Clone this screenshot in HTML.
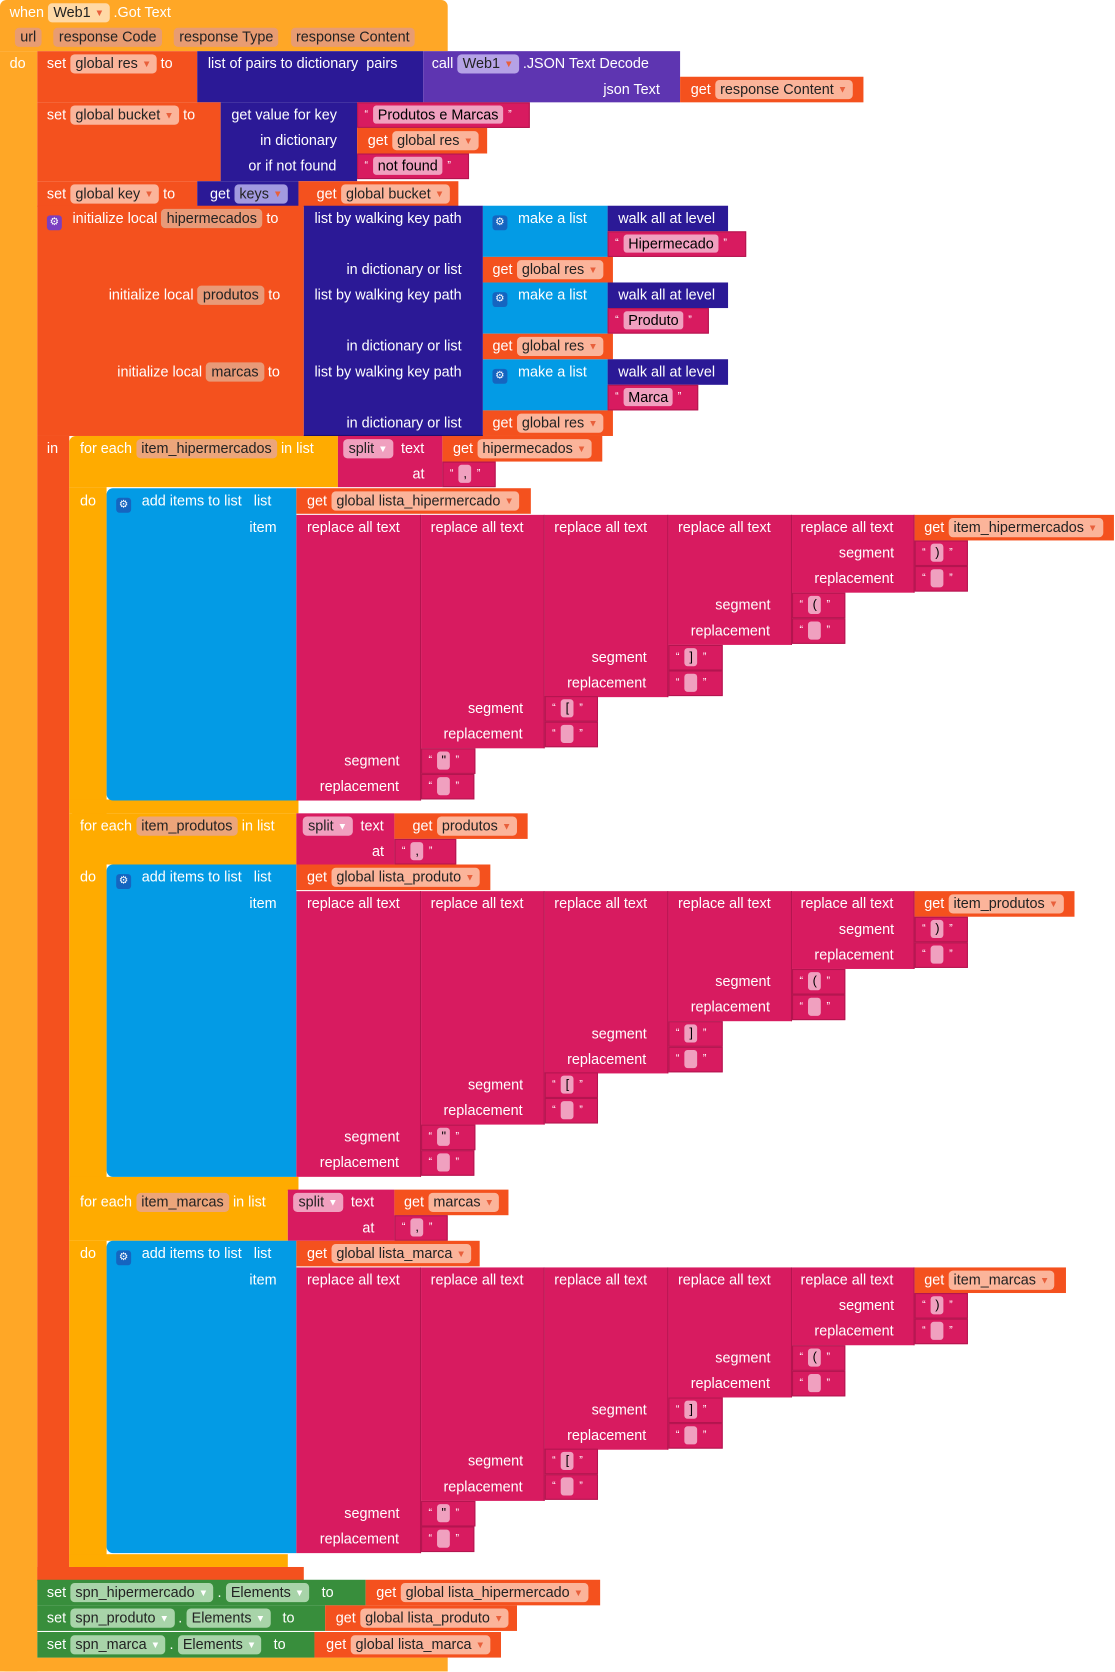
<!DOCTYPE html>
<html><head><meta charset="utf-8"><style>
*{margin:0;padding:0;box-sizing:border-box}
body{width:1115px;height:1672px;background:#fff;overflow:hidden}
#w{position:absolute;left:0;top:0;width:1046px;height:1568px;transform:scale(1.06597);transform-origin:0 0}
.b{position:absolute}
.t{position:absolute;color:#fff;font:13.5px "Liberation Sans",sans-serif;white-space:nowrap;line-height:24px;height:24px}
.p{display:inline-block;padding:0 5px;border-radius:4px;line-height:18px;color:#222}
.p s{text-decoration:none;font-size:9px;color:#e8603c;vertical-align:1px}
.O{background:#F4511E}.E{background:#FFA726}.I{background:#2B1996}.P{background:#5E35B1}.M{background:#D81B60}.L{background:#039BE5}.Y{background:#FFAB00}.G{background:#388E3C}
.po{background:#fbb49a}.pe{background:#ffd9a6}.pr{background:#e89c72}.pi{background:#a29ae0}.pp{background:#b5a2e6}.pm{background:#f0a0bf}.pg{background:#a8d4a9}.py{background:#eca57a}.pl{background:#e89a78}
.q{position:absolute;height:24px;background:#D81B60;border:1px solid #b3154f;color:#fff;font:10px "Liberation Sans",sans-serif;line-height:22px;padding-left:6px;white-space:nowrap}
.q i{display:inline-block;width:12px;height:17px;background:#f0a0bf;border-radius:3px;vertical-align:middle;margin:0 5px;color:#000;font:12px "Liberation Sans";font-style:normal;text-align:center;line-height:17px}
.g{display:inline-block;width:14px;height:14px;border-radius:3px;vertical-align:-2px;margin-right:10px;color:#fff;font-size:10px;text-align:center;line-height:14px}
.c{border-right:1px solid #b3154f}
</style></head><body><div id="w">
<!-- event -->
<div class="b E" style="left:0;top:0;width:420px;height:48px;border-radius:6px 6px 0 0"></div>
<div class="b E" style="left:0;top:48px;width:35px;height:1520px;border-radius:0 0 0 6px"></div>
<div class="b E" style="left:0;top:1555px;width:420px;height:13px"></div>
<div class="t" style="left:9px;top:0">when <span class="p pe">Web1 <s>▼</s></span> .Got Text</div>
<div class="t" style="left:14px;top:23px"><span class="p pr">url</span> &nbsp; <span class="p pr">response Code</span> &nbsp; <span class="p pr">response Type</span> &nbsp; <span class="p pr">response Content</span></div>
<div class="t" style="left:9px;top:48px">do</div>
<!-- set global res -->
<div class="b O" style="left:35px;top:48px;width:150px;height:48px"></div>
<div class="t" style="left:44px;top:48px">set <span class="p po">global res <s>▼</s></span> to</div>
<div class="b I" style="left:185px;top:48px;width:212px;height:48px"></div>
<div class="t" style="left:195px;top:48px">list of pairs to dictionary &nbsp;pairs</div>
<div class="b P" style="left:397px;top:48px;width:241px;height:48px"></div>
<div class="t" style="left:405px;top:48px">call <span class="p pp">Web1 <s>▼</s></span> .JSON Text Decode</div>
<div class="t" style="left:566px;top:72px">json Text</div>
<div class="b O" style="left:638px;top:72px;width:172px;height:24px"></div>
<div class="t" style="left:648px;top:72px">get <span class="p po">response Content <s>▼</s></span></div>
<!-- set bucket -->
<div class="b O" style="left:35px;top:96px;width:172px;height:74px"></div>
<div class="t" style="left:44px;top:96px">set <span class="p po">global bucket <s>▼</s></span> to</div>
<div class="b I" style="left:207px;top:96px;width:128px;height:74px"></div>
<div class="t" style="left:217px;top:96px">get value for key</div>
<div class="t" style="left:244px;top:120px">in dictionary</div>
<div class="t" style="left:233px;top:144px">or if not found</div>
<div class="q" style="left:335px;top:96px;width:162px">“<i style="width:auto;padding:0 4px;font:13.5px 'Liberation Sans';line-height:17px">Produtos e Marcas</i>”</div>
<div class="b O" style="left:335px;top:120px;width:122px;height:24px"></div>
<div class="t" style="left:345px;top:120px">get <span class="p po">global res <s>▼</s></span></div>
<div class="q" style="left:335px;top:144px;width:105px">“<i style="width:auto;padding:0 4px;font:13.5px 'Liberation Sans';line-height:17px">not found</i>”</div>
<!-- set key -->
<div class="b O" style="left:35px;top:170px;width:150px;height:24px"></div>
<div class="t" style="left:44px;top:170px">set <span class="p po">global key <s>▼</s></span> to</div>
<div class="b I" style="left:185px;top:170px;width:95px;height:24px"></div>
<div class="t" style="left:197px;top:170px">get <span class="p pi">keys <s>▼</s></span></div>
<div class="b O" style="left:280px;top:170px;width:150px;height:24px"></div>
<div class="t" style="left:297px;top:170px">get <span class="p po">global bucket <s>▼</s></span></div>
<!-- init local -->
<div class="b O" style="left:35px;top:193px;width:250px;height:216px"></div>
<div class="b O" style="left:35px;top:409px;width:30px;height:1074px"></div>
<div class="b O" style="left:35px;top:1470px;width:250px;height:13px"></div>
<div class="t" style="left:44px;top:193px"><span class="g" style="background:#7b3fc0">⚙</span>initialize local <span class="p pl">hipermecados</span> to</div>
<div class="t" style="left:102px;top:265px">initialize local <span class="p pl">produtos</span> to</div>
<div class="t" style="left:110px;top:337px">initialize local <span class="p pl">marcas</span> to</div>
<div class="t" style="left:44px;top:409px">in</div>
<!-- walkers -->
<div class="b I" style="left:285px;top:193px;width:168px;height:216px;border-bottom:1px solid #1d0f70"></div>
<div class="b L" style="left:453px;top:193px;width:117px;height:48px"></div>
<div class="b L" style="left:453px;top:265px;width:117px;height:48px"></div>
<div class="b L" style="left:453px;top:337px;width:117px;height:48px"></div>
<div class="t" style="left:295px;top:193px">list by walking key path</div>
<div class="t" style="left:325px;top:241px">in dictionary or list</div>
<div class="t" style="left:295px;top:265px">list by walking key path</div>
<div class="t" style="left:325px;top:313px">in dictionary or list</div>
<div class="t" style="left:295px;top:337px">list by walking key path</div>
<div class="t" style="left:325px;top:385px">in dictionary or list</div>
<div class="t" style="left:462px;top:193px"><span class="g" style="background:#1565c0">⚙</span>make a list</div>
<div class="t" style="left:462px;top:265px"><span class="g" style="background:#1565c0">⚙</span>make a list</div>
<div class="t" style="left:462px;top:337px"><span class="g" style="background:#1565c0">⚙</span>make a list</div>
<div class="b O" style="left:453px;top:241px;width:122px;height:24px"></div>
<div class="t" style="left:462px;top:241px">get <span class="p po">global res <s>▼</s></span></div>
<div class="b O" style="left:453px;top:313px;width:122px;height:24px"></div>
<div class="t" style="left:462px;top:313px">get <span class="p po">global res <s>▼</s></span></div>
<div class="b O" style="left:453px;top:385px;width:122px;height:24px"></div>
<div class="t" style="left:462px;top:385px">get <span class="p po">global res <s>▼</s></span></div>
<div class="b I" style="left:570px;top:193px;width:113px;height:24px"></div>
<div class="t" style="left:580px;top:193px">walk all at level</div>
<div class="b I" style="left:570px;top:265px;width:113px;height:24px"></div>
<div class="t" style="left:580px;top:265px">walk all at level</div>
<div class="b I" style="left:570px;top:337px;width:113px;height:24px"></div>
<div class="t" style="left:580px;top:337px">walk all at level</div>
<div class="q" style="left:570px;top:217px;width:130px">“<i style="width:auto;padding:0 4px;font:13.5px 'Liberation Sans';line-height:17px">Hipermecado</i>”</div>
<div class="q" style="left:570px;top:289px;width:95px">“<i style="width:auto;padding:0 4px;font:13.5px 'Liberation Sans';line-height:17px">Produto</i>”</div>
<div class="q" style="left:570px;top:361px;width:85px">“<i style="width:auto;padding:0 4px;font:13.5px 'Liberation Sans';line-height:17px">Marca</i>”</div>

<!-- yellow -->
<div class="b Y" style="left:65px;top:409px;width:252px;height:48px;border-radius:6px 0 0 0"></div>
<div class="b Y" style="left:65px;top:457px;width:35px;height:307px;border-radius:0 0 0 6px"></div>
<div class="b Y" style="left:65px;top:750px;width:215px;height:13px"></div>
<div class="b Y" style="left:65px;top:763px;width:213px;height:48px"></div>
<div class="b Y" style="left:65px;top:811px;width:35px;height:306px;border-radius:0 0 0 6px"></div>
<div class="b Y" style="left:65px;top:1104px;width:215px;height:13px"></div>
<div class="b Y" style="left:65px;top:1116px;width:205px;height:48px"></div>
<div class="b Y" style="left:65px;top:1164px;width:35px;height:306px;border-radius:0 0 0 6px"></div>
<div class="b Y" style="left:65px;top:1458px;width:205px;height:12px"></div>

<div class="t" style="left:75px;top:409px">for each <span class="p py">item_hipermercados</span> in list</div>
<div class="b M" style="left:317px;top:409px;width:98px;height:48px"></div>
<div class="t" style="left:322px;top:409px"><span class="p pm">split <s style="color:#fff">▼</s></span> &nbsp;text</div>
<div class="t" style="left:387px;top:433px">at</div>
<div class="b O" style="left:415px;top:409px;width:150px;height:24px"></div>
<div class="t" style="left:425px;top:409px">get <span class="p po">hipermecados <s>▼</s></span></div>
<div class="q" style="left:415px;top:433px;width:50px">“<i>,</i>”</div>

<div class="t" style="left:75px;top:763px">for each <span class="p py">item_produtos</span> in list</div>
<div class="b M" style="left:278px;top:763px;width:92px;height:48px"></div>
<div class="t" style="left:284px;top:763px"><span class="p pm">split <s style="color:#fff">▼</s></span> &nbsp;text</div>
<div class="t" style="left:349px;top:787px">at</div>
<div class="b O" style="left:370px;top:763px;width:125px;height:24px"></div>
<div class="t" style="left:387px;top:763px">get <span class="p po">produtos <s>▼</s></span></div>
<div class="q" style="left:370px;top:787px;width:58px">“<i>,</i>”</div>

<div class="t" style="left:75px;top:1116px">for each <span class="p py">item_marcas</span> in list</div>
<div class="b M" style="left:270px;top:1116px;width:100px;height:48px"></div>
<div class="t" style="left:275px;top:1116px"><span class="p pm">split <s style="color:#fff">▼</s></span> &nbsp;text</div>
<div class="t" style="left:340px;top:1140px">at</div>
<div class="b O" style="left:370px;top:1116px;width:107px;height:24px"></div>
<div class="t" style="left:379px;top:1116px">get <span class="p po">marcas <s>▼</s></span></div>
<div class="q" style="left:370px;top:1140px;width:50px">“<i>,</i>”</div>
<div class="t" style="left:75px;top:458px">do</div>
<div class="t" style="left:75px;top:811px">do</div>
<div class="t" style="left:75px;top:1164px">do</div>

<!-- section 1 -->
<div class="b L" style="left:100px;top:458px;width:178px;height:293px;border-radius:6px 0 0 6px"></div>
<div class="t" style="left:109px;top:458px"><span class="g" style="background:#1565c0">⚙</span>add items to list &nbsp; list</div>
<div class="t" style="left:234px;top:483px">item</div>
<div class="b O" style="left:278px;top:458px;width:220px;height:24px"></div>
<div class="t" style="left:288px;top:458px">get <span class="p po">global lista_hipermercado <s>▼</s></span></div>
<div class="b M c" style="left:278px;top:483px;width:117px;height:268px"></div>
<div class="b M c" style="left:395px;top:483px;width:116px;height:219px"></div>
<div class="b M c" style="left:511px;top:483px;width:116px;height:171px"></div>
<div class="b M c" style="left:627px;top:483px;width:116px;height:122px"></div>
<div class="b M c" style="left:743px;top:483px;width:115px;height:73px"></div>
<div class="t" style="left:288px;top:483px">replace all text</div><div class="t" style="left:404px;top:483px">replace all text</div><div class="t" style="left:520px;top:483px">replace all text</div><div class="t" style="left:636px;top:483px">replace all text</div><div class="t" style="left:751px;top:483px">replace all text</div>
<div class="b O" style="left:858px;top:483px;width:187px;height:24px"></div>
<div class="t" style="left:867px;top:483px">get <span class="p po">item_hipermercados <s>▼</s></span></div>
<div class="t" style="left:787px;top:507px">segment</div><div class="t" style="left:764px;top:531px">replacement</div>
<div class="t" style="left:671px;top:556px">segment</div><div class="t" style="left:648px;top:580px">replacement</div>
<div class="t" style="left:555px;top:605px">segment</div><div class="t" style="left:532px;top:629px">replacement</div>
<div class="t" style="left:439px;top:653px">segment</div><div class="t" style="left:416px;top:677px">replacement</div>
<div class="t" style="left:323px;top:702px">segment</div><div class="t" style="left:300px;top:726px">replacement</div>
<div class="q" style="left:858px;top:507px;width:50px">“<i>)</i>”</div><div class="q" style="left:858px;top:531px;width:50px">“<i></i>”</div>
<div class="q" style="left:743px;top:556px;width:50px">“<i>(</i>”</div><div class="q" style="left:743px;top:580px;width:50px">“<i></i>”</div>
<div class="q" style="left:627px;top:605px;width:51px">“<i>]</i>”</div><div class="q" style="left:627px;top:629px;width:51px">“<i></i>”</div>
<div class="q" style="left:511px;top:653px;width:50px">“<i>[</i>”</div><div class="q" style="left:511px;top:677px;width:50px">“<i></i>”</div>
<div class="q" style="left:395px;top:702px;width:51px">“<i>"</i>”</div><div class="q" style="left:395px;top:726px;width:50px">“<i></i>”</div>

<!-- section 2 -->
<div class="b L" style="left:100px;top:811px;width:178px;height:293px;border-radius:6px 0 0 6px"></div>
<div class="t" style="left:109px;top:811px"><span class="g" style="background:#1565c0">⚙</span>add items to list &nbsp; list</div>
<div class="t" style="left:234px;top:836px">item</div>
<div class="b O" style="left:278px;top:811px;width:182px;height:24px"></div>
<div class="t" style="left:288px;top:811px">get <span class="p po">global lista_produto <s>▼</s></span></div>
<div class="b M c" style="left:278px;top:836px;width:117px;height:268px"></div>
<div class="b M c" style="left:395px;top:836px;width:116px;height:219px"></div>
<div class="b M c" style="left:511px;top:836px;width:116px;height:171px"></div>
<div class="b M c" style="left:627px;top:836px;width:116px;height:122px"></div>
<div class="b M c" style="left:743px;top:836px;width:115px;height:73px"></div>
<div class="t" style="left:288px;top:836px">replace all text</div><div class="t" style="left:404px;top:836px">replace all text</div><div class="t" style="left:520px;top:836px">replace all text</div><div class="t" style="left:636px;top:836px">replace all text</div><div class="t" style="left:751px;top:836px">replace all text</div>
<div class="b O" style="left:858px;top:836px;width:150px;height:24px"></div>
<div class="t" style="left:867px;top:836px">get <span class="p po">item_produtos <s>▼</s></span></div>
<div class="t" style="left:787px;top:860px">segment</div><div class="t" style="left:764px;top:884px">replacement</div>
<div class="t" style="left:671px;top:909px">segment</div><div class="t" style="left:648px;top:933px">replacement</div>
<div class="t" style="left:555px;top:958px">segment</div><div class="t" style="left:532px;top:982px">replacement</div>
<div class="t" style="left:439px;top:1006px">segment</div><div class="t" style="left:416px;top:1030px">replacement</div>
<div class="t" style="left:323px;top:1055px">segment</div><div class="t" style="left:300px;top:1079px">replacement</div>
<div class="q" style="left:858px;top:860px;width:50px">“<i>)</i>”</div><div class="q" style="left:858px;top:884px;width:50px">“<i></i>”</div>
<div class="q" style="left:743px;top:909px;width:50px">“<i>(</i>”</div><div class="q" style="left:743px;top:933px;width:50px">“<i></i>”</div>
<div class="q" style="left:627px;top:958px;width:51px">“<i>]</i>”</div><div class="q" style="left:627px;top:982px;width:51px">“<i></i>”</div>
<div class="q" style="left:511px;top:1006px;width:50px">“<i>[</i>”</div><div class="q" style="left:511px;top:1030px;width:50px">“<i></i>”</div>
<div class="q" style="left:395px;top:1055px;width:51px">“<i>"</i>”</div><div class="q" style="left:395px;top:1079px;width:50px">“<i></i>”</div>

<!-- section 3 -->
<div class="b L" style="left:100px;top:1164px;width:178px;height:293px;border-radius:6px 0 0 6px"></div>
<div class="t" style="left:109px;top:1164px"><span class="g" style="background:#1565c0">⚙</span>add items to list &nbsp; list</div>
<div class="t" style="left:234px;top:1189px">item</div>
<div class="b O" style="left:278px;top:1164px;width:172px;height:24px"></div>
<div class="t" style="left:288px;top:1164px">get <span class="p po">global lista_marca <s>▼</s></span></div>
<div class="b M c" style="left:278px;top:1189px;width:117px;height:268px"></div>
<div class="b M c" style="left:395px;top:1189px;width:116px;height:219px"></div>
<div class="b M c" style="left:511px;top:1189px;width:116px;height:171px"></div>
<div class="b M c" style="left:627px;top:1189px;width:116px;height:122px"></div>
<div class="b M c" style="left:743px;top:1189px;width:115px;height:73px"></div>
<div class="t" style="left:288px;top:1189px">replace all text</div><div class="t" style="left:404px;top:1189px">replace all text</div><div class="t" style="left:520px;top:1189px">replace all text</div><div class="t" style="left:636px;top:1189px">replace all text</div><div class="t" style="left:751px;top:1189px">replace all text</div>
<div class="b O" style="left:858px;top:1189px;width:142px;height:24px"></div>
<div class="t" style="left:867px;top:1189px">get <span class="p po">item_marcas <s>▼</s></span></div>
<div class="t" style="left:787px;top:1213px">segment</div><div class="t" style="left:764px;top:1237px">replacement</div>
<div class="t" style="left:671px;top:1262px">segment</div><div class="t" style="left:648px;top:1286px">replacement</div>
<div class="t" style="left:555px;top:1311px">segment</div><div class="t" style="left:532px;top:1335px">replacement</div>
<div class="t" style="left:439px;top:1359px">segment</div><div class="t" style="left:416px;top:1383px">replacement</div>
<div class="t" style="left:323px;top:1408px">segment</div><div class="t" style="left:300px;top:1432px">replacement</div>
<div class="q" style="left:858px;top:1213px;width:50px">“<i>)</i>”</div><div class="q" style="left:858px;top:1237px;width:50px">“<i></i>”</div>
<div class="q" style="left:743px;top:1262px;width:50px">“<i>(</i>”</div><div class="q" style="left:743px;top:1286px;width:50px">“<i></i>”</div>
<div class="q" style="left:627px;top:1311px;width:51px">“<i>]</i>”</div><div class="q" style="left:627px;top:1335px;width:51px">“<i></i>”</div>
<div class="q" style="left:511px;top:1359px;width:50px">“<i>[</i>”</div><div class="q" style="left:511px;top:1383px;width:50px">“<i></i>”</div>
<div class="q" style="left:395px;top:1408px;width:51px">“<i>"</i>”</div><div class="q" style="left:395px;top:1432px;width:50px">“<i></i>”</div>

<!-- green setters -->
<div class="b G" style="left:35px;top:1482px;width:308px;height:24px"></div>
<div class="t" style="left:44px;top:1482px">set <span class="p pg">spn_hipermercado <s style="color:#fff">▼</s></span> . <span class="p pg">Elements <s style="color:#fff">▼</s></span> &nbsp; to</div>
<div class="b O" style="left:343px;top:1482px;width:220px;height:24px"></div>
<div class="t" style="left:353px;top:1482px">get <span class="p po">global lista_hipermercado <s>▼</s></span></div>
<div class="b G" style="left:35px;top:1506px;width:270px;height:24px"></div>
<div class="t" style="left:44px;top:1506px">set <span class="p pg">spn_produto <s style="color:#fff">▼</s></span> . <span class="p pg">Elements <s style="color:#fff">▼</s></span> &nbsp; to</div>
<div class="b O" style="left:305px;top:1506px;width:180px;height:24px"></div>
<div class="t" style="left:315px;top:1506px">get <span class="p po">global lista_produto <s>▼</s></span></div>
<div class="b G" style="left:35px;top:1531px;width:260px;height:24px"></div>
<div class="t" style="left:44px;top:1531px">set <span class="p pg">spn_marca <s style="color:#fff">▼</s></span> . <span class="p pg">Elements <s style="color:#fff">▼</s></span> &nbsp; to</div>
<div class="b O" style="left:295px;top:1531px;width:175px;height:24px"></div>
<div class="t" style="left:306px;top:1531px">get <span class="p po">global lista_marca <s>▼</s></span></div>
</div></body></html>
